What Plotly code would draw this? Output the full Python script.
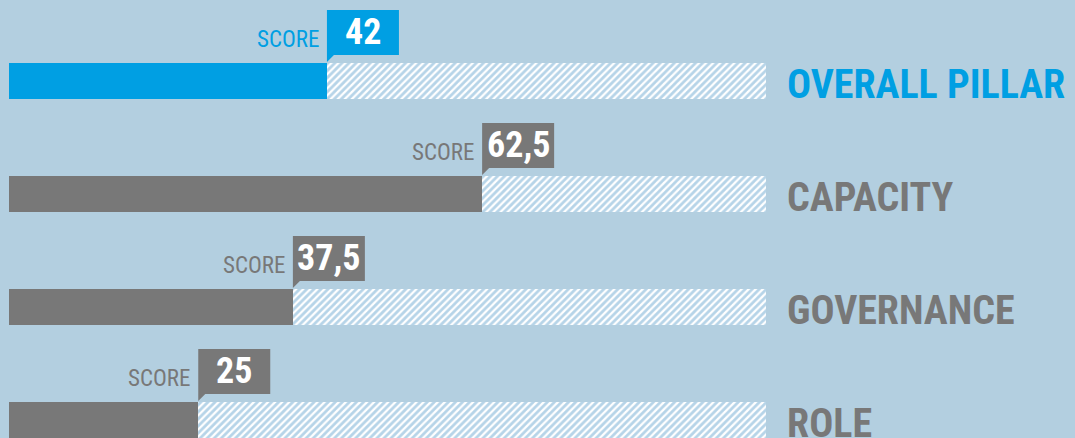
import plotly.graph_objects as go

# pillar scores (0-100), top to bottom
pillars = ["OVERALL PILLAR", "CAPACITY", "GOVERNANCE", "ROLE"]
scores = [42, 62.5, 37.5, 25]
bar_colors = ["#009fe3", "#787878", "#787878", "#787878"]

BG = "#b3cfe0"
HATCH = "#6ea9d2"
FONT = "Roboto Condensed, Liberation Sans Narrow, Arial Narrow, DejaVu Sans Condensed"
W, H = 1075, 438
X0_PX, X1_PX = 9, 766          # bar extent in pixels
PX_X = 100 / (X1_PX - X0_PX)   # data units per pixel along x
ROW_PX = 113                   # row pitch in pixels
FIRST_PX = 81                  # first bar centre


def fmt(v):
    return f"{v:g}".replace(".", ",")


ys = list(range(len(pillars)))
rest = [100 - s for s in scores]

fig = go.Figure()
fig.add_trace(go.Bar(
    x=scores, y=ys, orientation="h", width=36 / ROW_PX,
    marker=dict(color=bar_colors, line_width=0),
    hoverinfo="skip",
))
fig.add_trace(go.Bar(
    x=rest, y=ys, orientation="h", width=36 / ROW_PX,
    marker=dict(color="white", line_width=0,
                pattern=dict(shape="/", fillmode="overlay", fgcolor=HATCH,
                             size=5, solidity=0.55)),
    hoverinfo="skip",
))

box_w = 72 * PX_X
for i, (name, s, c) in enumerate(zip(pillars, scores, bar_colors)):
    top = i - 71 / ROW_PX
    bot = i - 26 / ROW_PX
    tip = i - 19 / ROW_PX
    # score box with a little pointer
    fig.add_shape(type="rect", xref="x", yref="y", x0=s, x1=s + box_w,
                  y0=top, y1=bot, fillcolor=c, line_width=0, layer="above")
    fig.add_shape(type="path", xref="x", yref="y", fillcolor=c, line_width=0,
                  layer="above",
                  path=f"M {s},{bot} L {s},{tip} L {s + 7 * PX_X},{bot} Z")
    fig.add_annotation(x=s + box_w / 2, y=i - 49 / ROW_PX, xref="x", yref="y",
                       text=f"<b>{fmt(s)}</b>", showarrow=False,
                       xanchor="center", yanchor="middle",
                       font=dict(family=FONT, size=36, color="white"))
    fig.add_annotation(x=s - 6 * PX_X, y=i - 42 / ROW_PX, xref="x", yref="y",
                       text="SCORE", showarrow=False,
                       xanchor="right", yanchor="middle",
                       font=dict(family=FONT, size=23, color=c))
    fig.add_annotation(x=785 / W, y=i + 3 / ROW_PX, xref="paper", yref="y",
                       text=f"<b>{name}</b>", showarrow=False,
                       xanchor="left", yanchor="middle",
                       font=dict(family=FONT, size=40, color=c))

fig.update_layout(
    barmode="stack",
    width=W, height=H,
    margin=dict(l=0, r=0, t=0, b=0),
    paper_bgcolor=BG, plot_bgcolor=BG,
    showlegend=False,
    xaxis=dict(range=[0, 100], domain=[X0_PX / W, X1_PX / W], visible=False,
               fixedrange=True),
    yaxis=dict(range=[(H - FIRST_PX) / ROW_PX, -FIRST_PX / ROW_PX], visible=False,
               fixedrange=True),
)

fig.write_html("out.html", config={"displayModeBar": False},
               post_script="document.body.style.margin='0';"
                           "document.body.style.background='" + BG + "';")
